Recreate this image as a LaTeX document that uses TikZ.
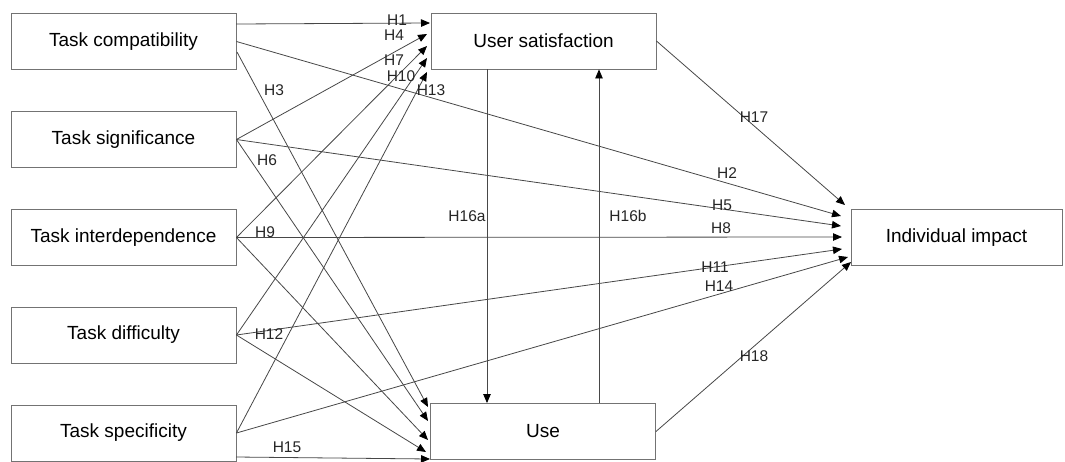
\documentclass[tikz,border=0pt]{standalone}
\usepackage{fontspec}
\setmainfont{Liberation Sans}
\usetikzlibrary{arrows.meta}
\tikzset{
    construct/.style={draw=black!55, line width=0.9pt, minimum width=225pt, minimum height=56pt, inner sep=0pt, font=\fontsize{19}{22}\selectfont},
    hyp/.style={draw=black!72, line width=0.8pt, -{Triangle[length=9pt,width=7.5pt,color=black]}},
    hlabel/.style={font=\fontsize{15.5}{17}\selectfont, text=black!85, inner sep=0pt}
}
\begin{document}
\begin{tikzpicture}[x=1pt,y=-1pt]
    \useasboundingbox (0,0) rectangle (1065,461);

    % Task characteristics
    \node[construct] (compat) at (123.5,41.5) {Task compatibility};
    \node[construct] (signif) at (123.5,139.5) {Task significance};
    \node[construct] (interdep) at (123.5,237.5) {Task interdependence};
    \node[construct] (diffic) at (123.5,335) {Task difficulty};
    \node[construct] (specif) at (123.5,433) {Task specificity};

    % Outcomes
    \node[construct] (sat) at (543.5,41) {User satisfaction};
    \node[construct] (use) at (543,431.5) {Use};
    \node[construct, minimum width=211pt] (impact) at (956.5,237.5) {Individual impact};

    % End points on the boxes
    \coordinate (c1) at (236,24);
    \coordinate (c3) at (237,52);
    \coordinate (p15) at (236,457);
    \coordinate (s1) at (430,23);
    \coordinate (s4) at (427,34);
    \coordinate (s7) at (427,46);
    \coordinate (s10) at (427,58);
    \coordinate (s13) at (427,72);
    \coordinate (u3) at (428,407);
    \coordinate (u6) at (428,421);
    \coordinate (u9) at (428,440);
    \coordinate (u12) at (426,452);
    \coordinate (u15) at (430,459);
    \coordinate (i17) at (845,205);
    \coordinate (i2) at (841,216);
    \coordinate (i5) at (841,226);
    \coordinate (i8) at (842,237);
    \coordinate (i11) at (842,249);
    \coordinate (i14) at (848,257);
    \coordinate (i18) at (851,262);
    \coordinate (h16a) at (487,0);
    \coordinate (h16b) at (599,0);

    % Paths to user satisfaction
    \draw[hyp] (c1) -- (s1);
    \draw[hyp] (signif.east) -- (s4);
    \draw[hyp] (interdep.east) -- (s7);
    \draw[hyp] (diffic.east) -- (s10);
    \draw[hyp] (specif.east) -- (s13);

    % Paths to use
    \draw[hyp] (c3) -- (u3);
    \draw[hyp] (signif.east) -- (u6);
    \draw[hyp] (interdep.east) -- (u9);
    \draw[hyp] (diffic.east) -- (u12);
    \draw[hyp] (p15) -- (u15);

    % Paths to individual impact
    \draw[hyp] (compat.east) -- (i2);
    \draw[hyp] (signif.east) -- (i5);
    \draw[hyp] (interdep.east) -- (i8);
    \draw[hyp] (diffic.east) -- (i11);
    \draw[hyp] (specif.east) -- (i14);
    \draw[hyp] (sat.east) -- (i17);
    \draw[hyp] (use.east) -- (i18);

    % Satisfaction <-> use
    \draw[hyp] (sat.south -| h16a) -- (use.north -| h16a);
    \draw[hyp] (use.north -| h16b) -- (sat.south -| h16b);

    % Hypothesis labels
    \node[hlabel] (l1) at (397,20) {H1};
    \node[hlabel] (l4) at (394,35) {H4};
    \node[hlabel] (l7) at (394,60) {H7};
    \node[hlabel] (l10) at (401,76) {H10};
    \node[hlabel] (l13) at (431,90) {H13};
    \node[hlabel] (l3) at (274,90) {H3};
    \node[hlabel] (l6) at (267,160) {H6};
    \node[hlabel] (l9) at (265,232) {H9};
    \node[hlabel] (l12) at (269,334) {H12};
    \node[hlabel] (l15) at (287,447) {H15};
    \node[hlabel] (l16a) at (467,216) {H16a};
    \node[hlabel] (l16b) at (628,216) {H16b};
    \node[hlabel] (l17) at (754,117) {H17};
    \node[hlabel] (l2) at (727,173) {H2};
    \node[hlabel] (l5) at (722,205) {H5};
    \node[hlabel] (l8) at (721,228) {H8};
    \node[hlabel] (l11) at (715,267) {H11};
    \node[hlabel] (l14) at (719,286) {H14};
    \node[hlabel] (l18) at (754,356) {H18};
\end{tikzpicture}
\end{document}
